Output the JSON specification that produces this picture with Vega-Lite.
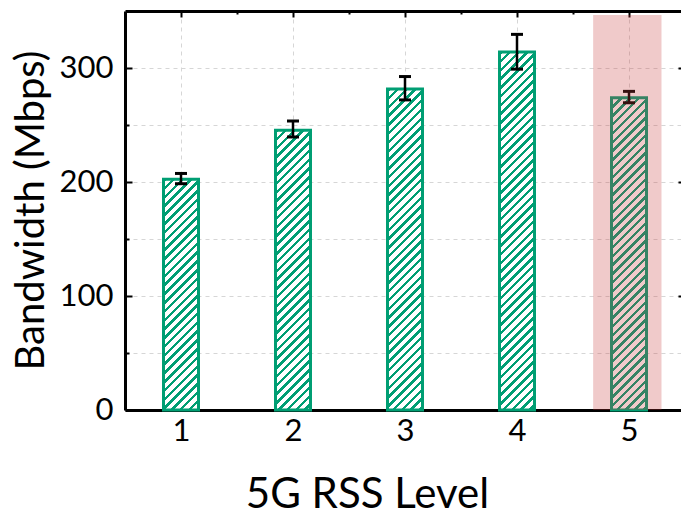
{
  "$schema": "https://vega.github.io/schema/vega-lite/v6.json",
  "width": 560,
  "height": 399,
  "autosize": {"type": "none"},
  "padding": {"left": 125, "top": 11, "right": -4, "bottom": 107},
  "background": "white",
  "config": {"view": {"stroke": null}},
  "data": {
    "values": [
      {"level": 1, "bandwidth": 202.5, "err_low": 198.5, "err_high": 207.5},
      {"level": 2, "bandwidth": 245.5, "err_low": 239.5, "err_high": 253.5},
      {"level": 3, "bandwidth": 281.5, "err_low": 272, "err_high": 292.5},
      {"level": 4, "bandwidth": 314, "err_low": 299, "err_high": 329.5},
      {"level": 5, "bandwidth": 274, "err_low": 269.5, "err_high": 279.5}
    ]
  },
  "layer": [
    {
      "mark": {
        "type": "rect",
        "width": 35,
        "height": 360,
        "baseline": "top",
        "align": "center",
        "clip": true,
        "fill": {
          "gradient": "linear",
          "x1": 0, "y1": 0, "x2": 0.10568, "y2": 1.08695,
          "stops": [
            {"offset": 0, "color": "#009e73"}, {"offset": 0.00889, "color": "#009e73"}, {"offset": 0.00889, "color": "#ffffff"}, {"offset": 0.02222, "color": "#ffffff"},
            {"offset": 0.02222, "color": "#009e73"}, {"offset": 0.03111, "color": "#009e73"}, {"offset": 0.03111, "color": "#ffffff"}, {"offset": 0.04444, "color": "#ffffff"},
            {"offset": 0.04444, "color": "#009e73"}, {"offset": 0.05333, "color": "#009e73"}, {"offset": 0.05333, "color": "#ffffff"}, {"offset": 0.06667, "color": "#ffffff"},
            {"offset": 0.06667, "color": "#009e73"}, {"offset": 0.07556, "color": "#009e73"}, {"offset": 0.07556, "color": "#ffffff"}, {"offset": 0.08889, "color": "#ffffff"},
            {"offset": 0.08889, "color": "#009e73"}, {"offset": 0.09778, "color": "#009e73"}, {"offset": 0.09778, "color": "#ffffff"}, {"offset": 0.11111, "color": "#ffffff"},
            {"offset": 0.11111, "color": "#009e73"}, {"offset": 0.12, "color": "#009e73"}, {"offset": 0.12, "color": "#ffffff"}, {"offset": 0.13333, "color": "#ffffff"},
            {"offset": 0.13333, "color": "#009e73"}, {"offset": 0.14222, "color": "#009e73"}, {"offset": 0.14222, "color": "#ffffff"}, {"offset": 0.15556, "color": "#ffffff"},
            {"offset": 0.15556, "color": "#009e73"}, {"offset": 0.16444, "color": "#009e73"}, {"offset": 0.16444, "color": "#ffffff"}, {"offset": 0.17778, "color": "#ffffff"},
            {"offset": 0.17778, "color": "#009e73"}, {"offset": 0.18667, "color": "#009e73"}, {"offset": 0.18667, "color": "#ffffff"}, {"offset": 0.2, "color": "#ffffff"},
            {"offset": 0.2, "color": "#009e73"}, {"offset": 0.20889, "color": "#009e73"}, {"offset": 0.20889, "color": "#ffffff"}, {"offset": 0.22222, "color": "#ffffff"},
            {"offset": 0.22222, "color": "#009e73"}, {"offset": 0.23111, "color": "#009e73"}, {"offset": 0.23111, "color": "#ffffff"}, {"offset": 0.24444, "color": "#ffffff"},
            {"offset": 0.24444, "color": "#009e73"}, {"offset": 0.25333, "color": "#009e73"}, {"offset": 0.25333, "color": "#ffffff"}, {"offset": 0.26667, "color": "#ffffff"},
            {"offset": 0.26667, "color": "#009e73"}, {"offset": 0.27556, "color": "#009e73"}, {"offset": 0.27556, "color": "#ffffff"}, {"offset": 0.28889, "color": "#ffffff"},
            {"offset": 0.28889, "color": "#009e73"}, {"offset": 0.29778, "color": "#009e73"}, {"offset": 0.29778, "color": "#ffffff"}, {"offset": 0.31111, "color": "#ffffff"},
            {"offset": 0.31111, "color": "#009e73"}, {"offset": 0.32, "color": "#009e73"}, {"offset": 0.32, "color": "#ffffff"}, {"offset": 0.33333, "color": "#ffffff"},
            {"offset": 0.33333, "color": "#009e73"}, {"offset": 0.34222, "color": "#009e73"}, {"offset": 0.34222, "color": "#ffffff"}, {"offset": 0.35556, "color": "#ffffff"},
            {"offset": 0.35556, "color": "#009e73"}, {"offset": 0.36444, "color": "#009e73"}, {"offset": 0.36444, "color": "#ffffff"}, {"offset": 0.37778, "color": "#ffffff"},
            {"offset": 0.37778, "color": "#009e73"}, {"offset": 0.38667, "color": "#009e73"}, {"offset": 0.38667, "color": "#ffffff"}, {"offset": 0.4, "color": "#ffffff"},
            {"offset": 0.4, "color": "#009e73"}, {"offset": 0.40889, "color": "#009e73"}, {"offset": 0.40889, "color": "#ffffff"}, {"offset": 0.42222, "color": "#ffffff"},
            {"offset": 0.42222, "color": "#009e73"}, {"offset": 0.43111, "color": "#009e73"}, {"offset": 0.43111, "color": "#ffffff"}, {"offset": 0.44444, "color": "#ffffff"},
            {"offset": 0.44444, "color": "#009e73"}, {"offset": 0.45333, "color": "#009e73"}, {"offset": 0.45333, "color": "#ffffff"}, {"offset": 0.46667, "color": "#ffffff"},
            {"offset": 0.46667, "color": "#009e73"}, {"offset": 0.47556, "color": "#009e73"}, {"offset": 0.47556, "color": "#ffffff"}, {"offset": 0.48889, "color": "#ffffff"},
            {"offset": 0.48889, "color": "#009e73"}, {"offset": 0.49778, "color": "#009e73"}, {"offset": 0.49778, "color": "#ffffff"}, {"offset": 0.51111, "color": "#ffffff"},
            {"offset": 0.51111, "color": "#009e73"}, {"offset": 0.52, "color": "#009e73"}, {"offset": 0.52, "color": "#ffffff"}, {"offset": 0.53333, "color": "#ffffff"},
            {"offset": 0.53333, "color": "#009e73"}, {"offset": 0.54222, "color": "#009e73"}, {"offset": 0.54222, "color": "#ffffff"}, {"offset": 0.55556, "color": "#ffffff"},
            {"offset": 0.55556, "color": "#009e73"}, {"offset": 0.56444, "color": "#009e73"}, {"offset": 0.56444, "color": "#ffffff"}, {"offset": 0.57778, "color": "#ffffff"},
            {"offset": 0.57778, "color": "#009e73"}, {"offset": 0.58667, "color": "#009e73"}, {"offset": 0.58667, "color": "#ffffff"}, {"offset": 0.6, "color": "#ffffff"},
            {"offset": 0.6, "color": "#009e73"}, {"offset": 0.60889, "color": "#009e73"}, {"offset": 0.60889, "color": "#ffffff"}, {"offset": 0.62222, "color": "#ffffff"},
            {"offset": 0.62222, "color": "#009e73"}, {"offset": 0.63111, "color": "#009e73"}, {"offset": 0.63111, "color": "#ffffff"}, {"offset": 0.64444, "color": "#ffffff"},
            {"offset": 0.64444, "color": "#009e73"}, {"offset": 0.65333, "color": "#009e73"}, {"offset": 0.65333, "color": "#ffffff"}, {"offset": 0.66667, "color": "#ffffff"},
            {"offset": 0.66667, "color": "#009e73"}, {"offset": 0.67556, "color": "#009e73"}, {"offset": 0.67556, "color": "#ffffff"}, {"offset": 0.68889, "color": "#ffffff"},
            {"offset": 0.68889, "color": "#009e73"}, {"offset": 0.69778, "color": "#009e73"}, {"offset": 0.69778, "color": "#ffffff"}, {"offset": 0.71111, "color": "#ffffff"},
            {"offset": 0.71111, "color": "#009e73"}, {"offset": 0.72, "color": "#009e73"}, {"offset": 0.72, "color": "#ffffff"}, {"offset": 0.73333, "color": "#ffffff"},
            {"offset": 0.73333, "color": "#009e73"}, {"offset": 0.74222, "color": "#009e73"}, {"offset": 0.74222, "color": "#ffffff"}, {"offset": 0.75556, "color": "#ffffff"},
            {"offset": 0.75556, "color": "#009e73"}, {"offset": 0.76444, "color": "#009e73"}, {"offset": 0.76444, "color": "#ffffff"}, {"offset": 0.77778, "color": "#ffffff"},
            {"offset": 0.77778, "color": "#009e73"}, {"offset": 0.78667, "color": "#009e73"}, {"offset": 0.78667, "color": "#ffffff"}, {"offset": 0.8, "color": "#ffffff"},
            {"offset": 0.8, "color": "#009e73"}, {"offset": 0.80889, "color": "#009e73"}, {"offset": 0.80889, "color": "#ffffff"}, {"offset": 0.82222, "color": "#ffffff"},
            {"offset": 0.82222, "color": "#009e73"}, {"offset": 0.83111, "color": "#009e73"}, {"offset": 0.83111, "color": "#ffffff"}, {"offset": 0.84444, "color": "#ffffff"},
            {"offset": 0.84444, "color": "#009e73"}, {"offset": 0.85333, "color": "#009e73"}, {"offset": 0.85333, "color": "#ffffff"}, {"offset": 0.86667, "color": "#ffffff"},
            {"offset": 0.86667, "color": "#009e73"}, {"offset": 0.87556, "color": "#009e73"}, {"offset": 0.87556, "color": "#ffffff"}, {"offset": 0.88889, "color": "#ffffff"},
            {"offset": 0.88889, "color": "#009e73"}, {"offset": 0.89778, "color": "#009e73"}, {"offset": 0.89778, "color": "#ffffff"}, {"offset": 0.91111, "color": "#ffffff"},
            {"offset": 0.91111, "color": "#009e73"}, {"offset": 0.92, "color": "#009e73"}, {"offset": 0.92, "color": "#ffffff"}, {"offset": 0.93333, "color": "#ffffff"},
            {"offset": 0.93333, "color": "#009e73"}, {"offset": 0.94222, "color": "#009e73"}, {"offset": 0.94222, "color": "#ffffff"}, {"offset": 0.95556, "color": "#ffffff"},
            {"offset": 0.95556, "color": "#009e73"}, {"offset": 0.96444, "color": "#009e73"}, {"offset": 0.96444, "color": "#ffffff"}, {"offset": 0.97778, "color": "#ffffff"},
            {"offset": 0.97778, "color": "#009e73"}, {"offset": 0.98667, "color": "#009e73"}, {"offset": 0.98667, "color": "#ffffff"}, {"offset": 1, "color": "#ffffff"}
          ]
        }
      },
      "encoding": {
        "x": {
          "field": "level", "type": "quantitative",
          "scale": {"domain": [0.5, 5.5], "nice": false, "zero": false},
          "axis": {
            "orient": "bottom",
            "values": [1, 1.5, 2, 2.5, 3, 3.5, 4, 4.5, 5],
            "format": "d",
            "labelExpr": "datum.value % 1 === 0 ? datum.label : ''",
            "labelFlush": false, "labelOverlap": false, "labelBound": false,
            "labelFont": "Lato", "labelFontSize": 31, "labelColor": "black", "labelPadding": 13,
            "tickColor": "black", "tickWidth": 2,
            "tickSize": {"condition": {"test": "datum.value % 1 === 0", "value": -7}, "value": -4},
            "domainColor": "black", "domainWidth": 3,
            "grid": true, "gridColor": "#d6d6d6", "gridDash": [4, 4], "gridWidth": 1,
            "title": "5G RSS Level", "titleFont": "Lato", "titleFontSize": 42, "titleFontWeight": "normal", "titleColor": "black",
            "titleX": 242, "titleY": 97, "titleBaseline": "alphabetic", "titleAlign": "center"
          }
        },
        "y": {
          "field": "bandwidth", "type": "quantitative",
          "scale": {"domain": [0, 350], "nice": false},
          "axis": {
            "orient": "left",
            "values": [0, 50, 100, 150, 200, 250, 300],
            "labelExpr": "datum.value % 100 === 0 ? datum.label : ''",
            "labelFlush": false, "labelOverlap": false, "labelBound": false,
            "labelFont": "Lato", "labelFontSize": 31, "labelColor": "black", "labelPadding": 19,
            "tickColor": "black", "tickWidth": 2,
            "tickSize": {"condition": {"test": "datum.value % 100 === 0", "value": -7}, "value": -4},
            "domainColor": "black", "domainWidth": 3,
            "grid": true, "gridColor": "#d6d6d6", "gridDash": [4, 4], "gridWidth": 1,
            "title": "Bandwidth (Mbps)", "titleFont": "Lato", "titleFontSize": 40, "titleFontWeight": "normal", "titleColor": "black",
            "titleX": -82, "titleY": 199, "titleAngle": -90, "titleBaseline": "alphabetic", "titleAlign": "center"
          }
        }
      }
    },
    {
      "mark": {"type": "rect", "width": 35, "fill": "transparent", "stroke": "#009e73", "strokeWidth": 3},
      "encoding": {
        "x": {"field": "level", "type": "quantitative", "axis": null},
        "y": {"field": "bandwidth", "type": "quantitative", "axis": null},
        "y2": {"datum": 0}
      }
    },
    {
      "mark": {"type": "rule", "color": "black", "strokeWidth": 2.5},
      "encoding": {
        "x": {"field": "level", "type": "quantitative", "axis": null},
        "y": {"field": "err_low", "type": "quantitative", "axis": null},
        "y2": {"field": "err_high"}
      }
    },
    {
      "mark": {"type": "tick", "orient": "horizontal", "size": 12, "thickness": 3, "color": "black", "opacity": 1},
      "encoding": {
        "x": {"field": "level", "type": "quantitative", "axis": null},
        "y": {"field": "err_low", "type": "quantitative", "axis": null}
      }
    },
    {
      "mark": {"type": "tick", "orient": "horizontal", "size": 12, "thickness": 3, "color": "black", "opacity": 1},
      "encoding": {
        "x": {"field": "level", "type": "quantitative", "axis": null},
        "y": {"field": "err_high", "type": "quantitative", "axis": null}
      }
    },
    {
      "data": {"values": [{"region": "highlight"}]},
      "mark": {"type": "rect", "fill": "#c83c3c", "opacity": 0.27},
      "encoding": {
        "x": {
          "datum": 4.68, "type": "quantitative",
          "axis": {
            "orient": "top", "title": null, "labels": false, "grid": false,
            "values": [1, 1.5, 2, 2.5, 3, 3.5, 4, 4.5, 5],
            "tickColor": "black", "tickWidth": 2,
            "tickSize": {"condition": {"test": "datum.value % 1 === 0", "value": -6}, "value": -3},
            "domainColor": "black", "domainWidth": 3
          }
        },
        "x2": {"datum": 5.29},
        "y": {
          "datum": 0, "type": "quantitative",
          "axis": {
            "orient": "right", "title": null, "labels": false, "grid": false,
            "values": [0, 50, 100, 150, 200, 250, 300],
            "tickColor": "black", "tickWidth": 2,
            "tickSize": {"condition": {"test": "datum.value % 100 === 0", "value": -7}, "value": -4},
            "domainColor": "black", "domainWidth": 3
          }
        },
        "y2": {"datum": 346.5}
      }
    }
  ],
  "resolve": {"axis": {"x": "independent", "y": "independent"}}
}
